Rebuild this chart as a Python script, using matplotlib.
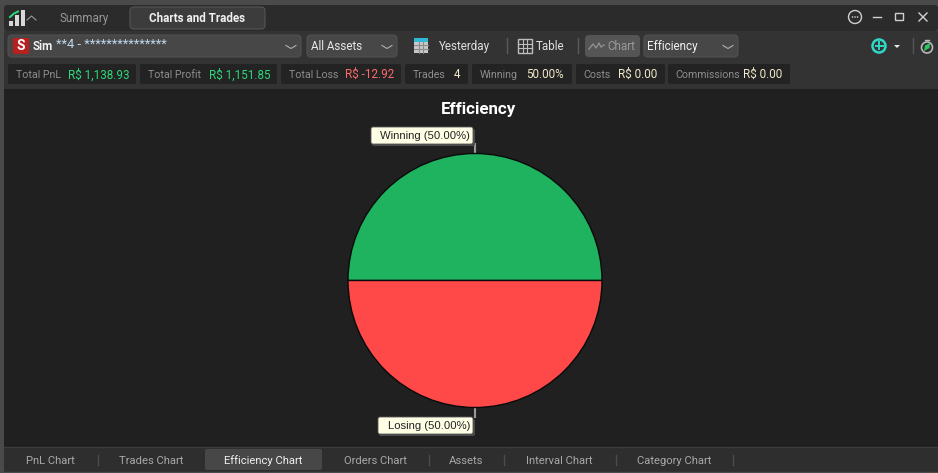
import matplotlib
matplotlib.use("Agg")
import matplotlib.pyplot as plt
from matplotlib.patches import FancyBboxPatch, Rectangle, Polygon, Circle

categories = ["Winning", "Losing"]
values = [50.0, 50.0]
slice_colors = ["#1FB25F", "#FF4848"]
stat_names = ["Total PnL", "Total Profit", "Total Loss", "Trades", "Winning", "Costs", "Commissions"]
stat_values = ["R$ 1,138.93", "R$ 1,151.85", "R$ -12.92", "4", "50.00%", "R$ 0.00", "R$ 0.00"]
stat_colors = ["#2BDB79", "#2BDB79", "#FF6A6A", "#F0E8C8", "#F0E8C8", "#F0E8C8", "#F0E8C8"]
tab_names = ["PnL Chart", "Trades Chart", "Efficiency Chart", "Orders Chart", "Assets", "Interval Chart", "Category Chart"]
title = "Efficiency"

plt.rcParams["font.family"] = ["Roboto", "DejaVu Sans"]
W, H = 938, 473
fig = plt.figure(figsize=(W / 100, H / 100), dpi=100, facecolor="#4A4A4A")
ui = fig.add_axes([0, 0, 1, 1])
ui.set_xlim(0, W); ui.set_ylim(H, 0); ui.axis("off")

def rect(x0, y0, x1, y1, fc, ec="none", r=0, lw=0.8, z=1):
    if r:
        p = FancyBboxPatch((x0 + r, y0 + r), x1 - x0 - 2 * r, y1 - y0 - 2 * r,
                           boxstyle=f"round,pad={r},rounding_size={r}", fc=fc, ec=ec, lw=lw, zorder=z)
    else:
        p = Rectangle((x0, y0), x1 - x0, y1 - y0, fc=fc, ec=ec, lw=lw, zorder=z)
    ui.add_patch(p)

def txt(x, y, s, c="#D8D8D8", size=8.4, ha="left", weight="normal", z=5):
    return ui.text(x, y + 0.8, s, color=c, fontsize=size, ha=ha, va="center", fontweight=weight, zorder=z)

def chevron(x, y, c="#B0B0B0", up=False, w=5, h=3):
    d = -h if up else h
    ui.plot([x - w, x, x + w], [y - d / 2, y + d / 2, y - d / 2], color=c, lw=0.8, zorder=5)

# window chrome
rect(0, 0, W, 4, "#4A4A4A")
rect(4, 5, W, 31, "#2B2B2B", r=3)
rect(4, 31, W, 89, "#333333")
rect(4, 89, W, 447, "#202020")
rect(4, 447, W, 473, "#2E2E2E")
ui.plot([4, W], [447, 447], color="#3C3C3C", lw=1, zorder=2)
ui.plot([4, W], [471.5, 471.5], color="#4A4A4A", lw=1, zorder=2)

# app icon and tabs
for x0, x1, top in [(9, 13, 21), (15, 19, 15), (20.5, 25, 10)]:
    rect(x0, top, x1, 26, "#D8D8D8", z=3)
ui.plot([10, 14, 18], [17, 13.5, 11.5], color="#2BDB79", lw=1.4, zorder=4)
chevron(31.5, 18, c="#9A9A9A", up=True, w=4.5, h=4)
txt(84, 18, "Summary", "#9A9A9A", ha="center")
rect(130, 7, 265, 29, "#3C3C3C", ec="#555555", r=4)
txt(197.5, 18, "Charts and Trades", "#F0F0F0", ha="center", weight="bold")

# window buttons
ui.add_patch(Circle((855, 17), 6.5, fc="none", ec="#D0D0D0", lw=1, zorder=5))
for dx in (-2.5, 0, 2.5):
    ui.add_patch(Circle((855 + dx, 17), 0.8, fc="#D0D0D0", zorder=5))
ui.plot([873, 881], [17, 17], color="#D0D0D0", lw=1, zorder=5)
rect(895, 13.5, 903, 20.5, "none", ec="#D0D0D0", lw=1, z=5)
ui.plot([919, 927], [13, 21], color="#D0D0D0", lw=1, zorder=5)
ui.plot([919, 927], [21, 13], color="#D0D0D0", lw=1, zorder=5)

# toolbar
rect(8, 35, 301, 57, "#474747", ec="#505050", r=4)
rect(13, 38, 29, 54, "#B82020", r=1, z=3)
txt(21, 45.5, "S", "white", size=10, ha="center", weight="bold")
txt(33, 46, "Sim", "#F0F0F0", weight="bold")
txt(56, 44, "**4 - ***************", "#BFD8EE", size=9.3)
chevron(291, 47)
rect(307, 35, 397, 57, "#474747", ec="#505050", r=4)
txt(311, 45.5, "All Assets", "#E8E8E8")
chevron(387, 47)
rect(414, 41, 428, 53, "#C8C8C8", z=3)
rect(414, 38, 428, 42, "#2FB8D8", z=4)
for x in (418.7, 423.3):
    ui.plot([x, x], [42, 53], color="#8A8A8A", lw=0.8, zorder=4)
for y in (45.5, 49):
    ui.plot([414, 428], [y, y], color="#8A8A8A", lw=0.8, zorder=4)
txt(439, 45.5, "Yesterday", "#E0E0E0")
ui.plot([506.5, 506.5], [38, 53], color="#5A5A5A", lw=1, zorder=3)
rect(518, 39, 532, 53, "none", ec="#BDBDBD", lw=1, z=4)
for x in (522.7, 527.3):
    ui.plot([x, x], [39, 53], color="#BDBDBD", lw=0.8, zorder=4)
for y in (43.7, 48.3):
    ui.plot([518, 532], [y, y], color="#BDBDBD", lw=0.8, zorder=4)
txt(536, 45.5, "Table", "#E0E0E0")
ui.plot([577.5, 577.5], [38, 53], color="#5A5A5A", lw=1, zorder=3)
rect(585, 35, 640, 57, "#555555", r=4)
ui.plot([589, 593, 596, 599, 601, 604], [49, 44, 48, 43, 47, 45], color="#909090", lw=1, zorder=4)
txt(607, 45.5, "Chart", "#999999")
rect(644, 35, 738, 57, "#474747", ec="#505050", r=4)
txt(647, 45.5, "Efficiency", "#F0F0F0")
chevron(728, 47)
ui.add_patch(Circle((879, 46), 6.5, fc="none", ec="#2FD8C8", lw=1.8, zorder=5))
ui.plot([875.5, 882.5], [46, 46], color="#2FD8C8", lw=1.4, zorder=6)
ui.plot([879, 879], [42.5, 49.5], color="#2FD8C8", lw=1.4, zorder=6)
ui.add_patch(Polygon([[894, 45], [900, 45], [897, 48]], fc="#E8E8E8", zorder=5))
ui.plot([912.5, 912.5], [38, 53], color="#555555", lw=1, zorder=3)
ui.add_patch(Circle((927, 47.5), 5.5, fc="#2E2E2E", ec="#B8B8B8", lw=1.2, zorder=5))
ui.plot([925, 929], [40, 40], color="#B8B8B8", lw=1, zorder=5)
ui.add_patch(Polygon([[924, 51], [925, 45.5], [930, 43], [929.5, 48]], fc="#2BC860", zorder=6))

# statistics row
stat_name_x = [16, 148, 289, 413, 480, 583, 675]
stat_value_x = [67.5, 209, 345, 454, 526, 618, 743]
box_left = [8, 140, 281, 405, 472, 576, 668]
box_right = [136, 277, 401, 468, 572, 665, 790]
for i in range(len(stat_names)):
    rect(box_left[i], 64, box_right[i], 84, "#232323", r=2, z=2)
    txt(stat_name_x[i], 74, stat_names[i], "#8E8E8E", size=7.7)
    txt(stat_value_x[i], 74, stat_values[i], stat_colors[i], size=8.4)

# bottom tabs
tab_x = [50, 151, 263, 375, 466, 559.5, 674]
sep_x = [97.5, 428.5, 503.5, 615.5, 732.5]
rect(205, 449, 322, 470, "#474747", r=2)
for x in sep_x:
    ui.plot([x, x], [455, 465], color="#4C4C4C", lw=1, zorder=3)
for i, name in enumerate(tab_names):
    active = name == "Efficiency Chart"
    txt(tab_x[i], 460, name, "#F0F0F0" if active else "#A8A8A8", ha="center", size=8.1)

# chart
txt(478.5, 109, title, "white", size=12.2, ha="center", weight="bold")
cx, cy, r = 475, 280.5, 127
pie_ax = fig.add_axes([(cx - r) / W, 1 - (cy + r) / H, 2 * r / W, 2 * r / H], zorder=3)
pie_ax.patch.set_alpha(0)
wedges, _ = pie_ax.pie(values, colors=slice_colors, startangle=0, radius=1.0,
                       wedgeprops=dict(edgecolor="#0A0A0A", linewidth=1.0))
for w in wedges:
    w.set_clip_on(False)
pie_ax.set_xlim(-1, 1); pie_ax.set_ylim(-1, 1)

label_boxes = [(371, 127, 473, 144), (378, 417, 473, 434)]
for name, v, (x0, y0, x1, y1), (yl0, yl1) in zip(categories, values, label_boxes, [(144, 153), (408, 417)]):
    ui.plot([475, 475], [yl0, yl1], color="#9A9A9A", lw=1.5, zorder=2)
    rect(x0 + 1, y0 + 2, x1 + 2, y1 + 2, "#4A4A4A", r=2, z=6)
    rect(x0, y0, x1, y1, "#FFFFE6", ec="#555555", r=2, lw=0.6, z=7)
    ui.text(x1 - 3, (y0 + y1) / 2, f"{name} ({v:.2f}%)", color="#222222", fontsize=8.1,
            ha="right", va="center", zorder=8, family=["Liberation Sans", "DejaVu Sans"])

fig.savefig("out.png", dpi=100, facecolor=fig.get_facecolor())
